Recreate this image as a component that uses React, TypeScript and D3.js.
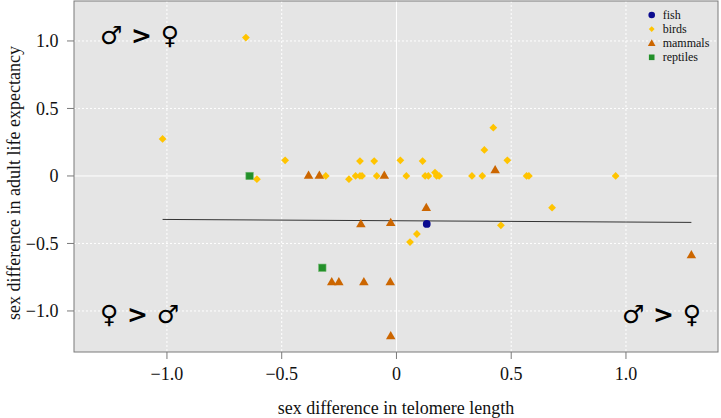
import React from "react";
import * as d3 from "d3";

// ---- data ----
const fishX = [0.132];
const fishY = [-0.355];

const birdX = [
  -1.019, -0.656, -0.608, -0.485, -0.308, -0.207, -0.178, -0.159, -0.15, -0.159,
  -0.097, -0.086, 0.017, 0.043, 0.114, 0.125, 0.139, 0.168, 0.175, 0.186,
  0.329, 0.374, 0.383, 0.422, 0.483, 0.567, 0.577, 0.955, 0.089, 0.059,
  0.455, 0.678,
];
const birdY = [
  0.274, 1.025, -0.024, 0.116, 0, -0.024, 0, 0, 0, 0.11,
  0.11, 0, 0.116, 0, 0.11, 0, 0, 0.025, 0, 0,
  0, 0, 0.193, 0.358, 0.116, 0, 0, 0, -0.43, -0.49,
  -0.366, -0.235,
];

const mammalX = [
  -0.383, -0.336, -0.053, 0.43, 0.13, -0.155, -0.025, -0.282, -0.251, -0.142,
  -0.027, -0.025, 1.285,
];
const mammalY = [
  0, 0, 0, 0.04, -0.24, -0.36, -0.35, -0.79, -0.79, -0.79,
  -0.79, -1.19, -0.59,
];

const reptileX = [-0.64, -0.323];
const reptileY = [0, -0.68];

const fitX = [-1.019, 1.285];
const fitY = [-0.322, -0.344];

const tickValues = [-1, -0.5, 0, 0.5, 1];
const tickLabels = ["\u22121.0", "\u22120.5", "0", "0.5", "1.0"];

const legendLabels = ["fish", "birds", "mammals", "reptiles"];
const legendColors = ["#0b0b8f", "#ffc400", "#cc6600", "#23902a"];

const xTitle = "sex difference in telomere length";
const yTitle = "sex difference in adult life expectancy";

// ---- layout ----
const W = 721;
const H = 418;
const P = { left: 74, right: 718, top: 1, bottom: 352 };

const x = d3.scaleLinear().domain([-1.405, 1.401]).range([P.left, P.right]);
const y = d3.scaleLinear().domain([1.296, -1.304]).range([P.top, P.bottom]);

const serif = "'Liberation Serif', 'Times New Roman', serif";
const sans = "'DejaVu Sans', sans-serif";
const FS = 18;

function tri(cx: number, cy: number, r: number) {
  const p = d3.path();
  p.moveTo(cx, cy - r);
  p.lineTo(cx + r * Math.cos(Math.PI / 6), cy + r / 2);
  p.lineTo(cx - r * Math.cos(Math.PI / 6), cy + r / 2);
  p.closePath();
  return p.toString();
}
function diamond(cx: number, cy: number, d: number) {
  const p = d3.path();
  p.moveTo(cx, cy - d);
  p.lineTo(cx + d, cy);
  p.lineTo(cx, cy + d);
  p.lineTo(cx - d, cy);
  p.closePath();
  return p.toString();
}

export default function App() {
  const line = d3
    .line<number>()
    .x((_, i) => x(fitX[i]))
    .y((_, i) => y(fitY[i]));

  return (
    <svg
      width={W}
      height={H}
      style={{ position: "absolute", left: 0, top: 0, background: "#fff" }}
    >
      {/* panel */}
      <rect
        x={P.left}
        y={P.top}
        width={P.right - P.left}
        height={P.bottom - P.top}
        fill="#e5e5e5"
      />
      {/* grid */}
      {tickValues.map((t, i) => (
        <g key={"g" + i}>
          <line
            x1={x(t)}
            x2={x(t)}
            y1={P.top}
            y2={P.bottom}
            stroke="#fff"
            strokeWidth={1}
            strokeDasharray={t === 0 ? undefined : "2,2"}
          />
          <line
            x1={P.left}
            x2={P.right}
            y1={y(t)}
            y2={y(t)}
            stroke="#fff"
            strokeWidth={1}
            strokeDasharray={t === 0 ? undefined : "2,2"}
          />
        </g>
      ))}
      <rect
        x={P.left}
        y={P.top}
        width={P.right - P.left}
        height={P.bottom - P.top}
        fill="none"
        stroke="#7a7a7a"
        strokeWidth={1}
      />
      {/* ticks */}
      {tickValues.map((t, i) => (
        <g key={"t" + i}>
          <line x1={x(t)} x2={x(t)} y1={P.bottom} y2={P.bottom + 7} stroke="#7a7a7a" />
          <text
            x={x(t)}
            y={380}
            textAnchor="middle"
            fontFamily={serif}
            fontSize={FS}
            fill="#111"
          >
            {tickLabels[i]}
          </text>
          <line x1={P.left - 7} x2={P.left} y1={y(t)} y2={y(t)} stroke="#7a7a7a" />
          <text
            x={58.5}
            y={y(t) + 6.5}
            textAnchor="end"
            fontFamily={serif}
            fontSize={FS}
            fill="#111"
          >
            {tickLabels[i]}
          </text>
        </g>
      ))}
      {/* titles */}
      <text
        x={(P.left + P.right) / 2}
        y={414}
        textAnchor="middle"
        fontFamily={serif}
        fontSize={FS}
        fill="#111"
      >
        {xTitle}
      </text>
      <text
        transform={`translate(19.5,183) rotate(-90)`}
        textAnchor="middle"
        fontFamily={serif}
        fontSize={FS}
        fill="#111"
      >
        {yTitle}
      </text>

      {/* regression line */}
      <path d={line(fitX) || ""} fill="none" stroke="#333" strokeWidth={1} />

      {/* points */}
      {birdX.map((v, i) => (
        <path key={"b" + i} d={diamond(x(v), y(birdY[i]), 3.9)} fill={legendColors[1]} />
      ))}
      {mammalX.map((v, i) => (
        <path key={"m" + i} d={tri(x(v), y(mammalY[i]), 5.5)} fill={legendColors[2]} />
      ))}
      {fishX.map((v, i) => (
        <circle key={"f" + i} cx={x(v)} cy={y(fishY[i])} r={3.9} fill={legendColors[0]} />
      ))}
      {reptileX.map((v, i) => (
        <rect
          key={"r" + i}
          x={x(v) - 3.7}
          y={y(reptileY[i]) - 3.7}
          width={7.4}
          height={7.4}
          fill={legendColors[3]}
          stroke="#6fb86f"
          strokeWidth={0.6}
        />
      ))}

      {/* legend */}
      {legendLabels.map((lab, i) => {
        const ly = 15 + i * 14.1;
        const lx = 651.7;
        let mark;
        if (i === 0) mark = <circle cx={lx} cy={ly} r={3.3} fill={legendColors[0]} />;
        else if (i === 1) mark = <path d={diamond(lx, ly, 2.9)} fill={legendColors[1]} />;
        else if (i === 2) mark = <path d={tri(lx, ly + 0.5, 4.4)} fill={legendColors[2]} />;
        else
          mark = (
            <rect x={lx - 2.8} y={ly - 2.8} width={5.6} height={5.6} fill={legendColors[3]} />
          );
        return (
          <g key={"l" + i}>
            {mark}
            <text x={662.7} y={ly + 4} fontFamily={serif} fontSize={12} fill="#111">
              {lab}
            </text>
          </g>
        );
      })}

      {/* sex annotations */}
      <text x={100} y={44} fontFamily={sans} fontWeight="bold" fontSize={25} fill="#000">
        {"\u2642 > \u2640"}
      </text>
      <text x={100} y={323} fontFamily={sans} fontWeight="bold" fontSize={25} fill="#000">
        {"\u2640 > \u2642"}
      </text>
      <text x={622} y={323} fontFamily={sans} fontWeight="bold" fontSize={25} fill="#000">
        {"\u2642 > \u2640"}
      </text>
    </svg>
  );
}
